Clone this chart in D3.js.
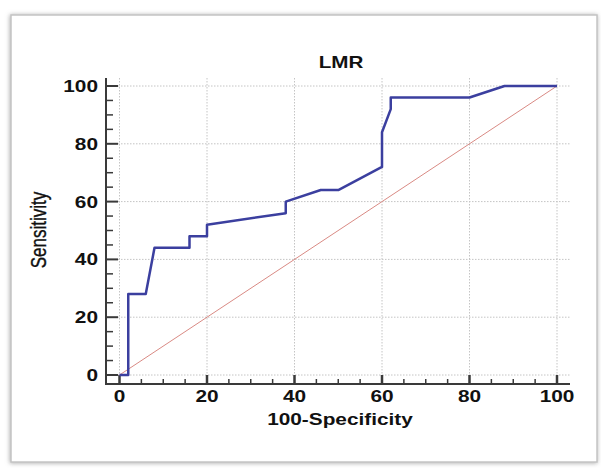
<!DOCTYPE html>
<html>
<head>
<meta charset="utf-8">
<script src="https://cdn.jsdelivr.net/npm/d3@7"></script>
<style>
  html, body { margin: 0; padding: 0; background: #ffffff; }
  svg { display: block; }
  text { font-family: "Liberation Sans", Arial, sans-serif; fill: #111; }
</style>
</head>
<body>
<svg id="chart" width="601" height="468"></svg>
<script>
// ----- data -----
const title = "LMR";
const xLabel = "100-Specificity";
const yLabel = "Sensitivity";
const xTicks = [0, 20, 40, 60, 80, 100];
const yTicks = [0, 20, 40, 60, 80, 100];
const rocFpr = [0, 2, 2, 6, 8, 16, 16, 20, 20, 38, 38, 46, 50, 60, 60, 62, 62, 80, 88, 100];
const rocTpr = [0, 0, 28, 28, 44, 44, 48, 48, 52, 56, 60, 64, 64, 72, 84, 92, 96, 96, 100, 100];
const refX = [0, 100];
const refY = [0, 100];

// ----- layout -----
const svg = d3.select("#chart");
const x = d3.scaleLinear().domain([0, 100]).range([119.5, 557]);
const y = d3.scaleLinear().domain([0, 100]).range([375, 86]);
const axisX = 106;   // y-axis line position
const axisY = 384;   // x-axis line position
const gridRight = 570;
const gridTop = 78;
const STRETCH = 1.3;

function stretch(sel, f) {
  sel.each(function() {
    const w = this.getComputedTextLength();
    d3.select(this).attr("textLength", w * f).attr("lengthAdjust", "spacingAndGlyphs");
  });
}

// frame with shadow
const defs = svg.append("defs");
const flt = defs.append("filter").attr("id", "sh").attr("x", "-5%").attr("y", "-5%").attr("width", "110%").attr("height", "110%");
flt.append("feDropShadow").attr("dx", -0.5).attr("dy", 0.5).attr("stdDeviation", 2.2).attr("flood-color", "#888").attr("flood-opacity", 0.7);
svg.append("rect").attr("x", 11).attr("y", 15).attr("width", 586).attr("height", 447)
  .attr("fill", "#fff").attr("stroke", "#c4c4c4").attr("stroke-width", 1.5).attr("filter", "url(#sh)");

// grid
const grid = svg.append("g");
grid.selectAll("line.gx").data(xTicks).join("line")
  .attr("x1", d => x(d)).attr("x2", d => x(d))
  .attr("y1", gridTop).attr("y2", y(0))
  .attr("stroke", "#c4c4c4").attr("stroke-width", 1).attr("stroke-dasharray", "1.5,1.5");
grid.selectAll("line.gy").data(yTicks).join("line")
  .attr("x1", axisX + 12).attr("x2", gridRight)
  .attr("y1", d => y(d)).attr("y2", d => y(d))
  .attr("stroke", "#c4c4c4").attr("stroke-width", 1).attr("stroke-dasharray", "1.5,1.5");

// axes lines
const axisColor = "#3a3a3a";
svg.append("line").attr("x1", axisX).attr("x2", axisX).attr("y1", gridTop).attr("y2", axisY + 1)
  .attr("stroke", axisColor).attr("stroke-width", 2);
svg.append("line").attr("x1", axisX - 1).attr("x2", gridRight).attr("y1", axisY).attr("y2", axisY)
  .attr("stroke", axisColor).attr("stroke-width", 2);

// minor ticks (every 5)
const minor = d3.range(0, 101, 5).filter(v => v % 20 !== 0);
svg.selectAll("line.mx").data(minor).join("line")
  .attr("x1", d => x(d)).attr("x2", d => x(d)).attr("y1", axisY).attr("y2", axisY - 5)
  .attr("stroke", axisColor).attr("stroke-width", 1.5);
svg.selectAll("line.my").data(minor).join("line")
  .attr("x1", axisX).attr("x2", axisX + 7).attr("y1", d => y(d)).attr("y2", d => y(d))
  .attr("stroke", axisColor).attr("stroke-width", 1.5);
// major ticks
svg.selectAll("line.Mx").data(xTicks).join("line")
  .attr("x1", d => x(d)).attr("x2", d => x(d)).attr("y1", axisY).attr("y2", axisY - 9)
  .attr("stroke", axisColor).attr("stroke-width", 2.5);
svg.selectAll("line.My").data(yTicks).join("line")
  .attr("x1", axisX).attr("x2", axisX + 12).attr("y1", d => y(d)).attr("y2", d => y(d))
  .attr("stroke", axisColor).attr("stroke-width", 2);

// tick labels
const xl = svg.selectAll("text.xt").data(xTicks).join("text")
  .attr("x", d => x(d)).attr("y", 402)
  .attr("text-anchor", "middle").attr("font-size", 16).attr("font-weight", "bold")
  .text(d => d);
stretch(xl, STRETCH);
const yl = svg.selectAll("text.yt").data(yTicks).join("text")
  .attr("x", 98).attr("y", d => y(d) + 6)
  .attr("text-anchor", "end").attr("font-size", 16).attr("font-weight", "bold")
  .text(d => d);
stretch(yl, STRETCH);

// reference diagonal
svg.append("path")
  .datum(refX.map((v, i) => [v, refY[i]]))
  .attr("d", d3.line().x(d => x(d[0])).y(d => y(d[1])))
  .attr("fill", "none").attr("stroke", "#d98a84").attr("stroke-width", 1);

// ROC curve
svg.append("path")
  .datum(rocFpr.map((v, i) => [v, rocTpr[i]]))
  .attr("d", d3.line().x(d => x(d[0])).y(d => y(d[1])))
  .attr("fill", "none").attr("stroke", "#3b3f9f").attr("stroke-width", 2.5)
  .attr("stroke-linejoin", "round");

// title and axis labels
const t = svg.append("text").attr("x", 341).attr("y", 68)
  .attr("text-anchor", "middle").attr("font-size", 16.5).attr("font-weight", "bold").text(title);
stretch(t, 1.25);
const xt = svg.append("text").attr("x", 340).attr("y", 425)
  .attr("text-anchor", "middle").attr("font-size", 16).attr("font-weight", "bold").text(xLabel);
stretch(xt, 1.3);
const yt = svg.append("text")
  .attr("transform", "translate(46,230) rotate(-90) scale(1,1.25)")
  .attr("text-anchor", "middle").attr("font-size", 17).attr("stroke", "#111").attr("stroke-width", 0.3)
  .text(yLabel);
</script>
</body>
</html>
